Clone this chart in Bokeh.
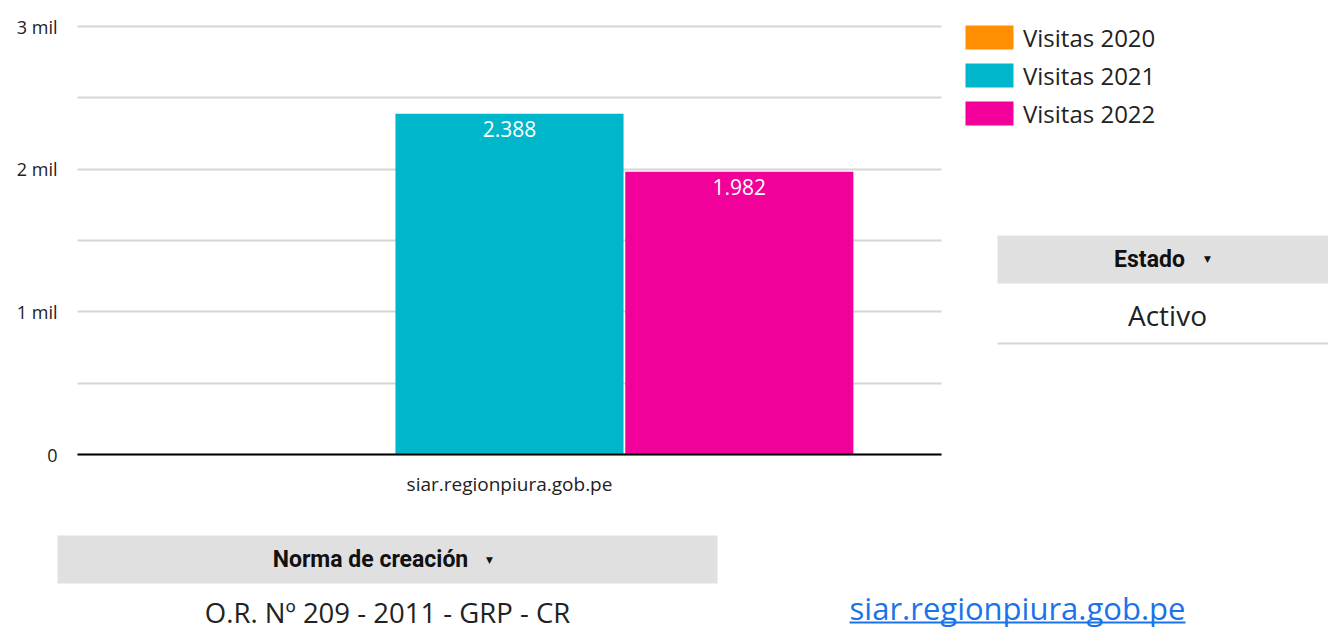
from bokeh.plotting import figure
from bokeh.models import (ColumnDataSource, Range1d, FixedTicker, Legend,
                          LegendItem, BoxAnnotation, Label, LabelSet)
from bokeh.core.properties import value
from bokeh.embed import file_html
from bokeh.resources import INLINE

# ---------------- data ----------------
categories = ["siar.regionpiura.gob.pe"]
series_names = ["Visitas 2020", "Visitas 2021", "Visitas 2022"]
visitas_2020 = [0]
visitas_2021 = [2388]
visitas_2022 = [1982]
series_colors = ["#ff8f00", "#00b6cb", "#f1009a"]
y_tick_values = [0, 1000, 2000, 3000]
y_tick_labels = ["0", "1 mil", "2 mil", "3 mil"]
estado_header = "Estado"
estado_value = "Activo"
norma_header = "Norma de creación"
norma_value = "O.R. Nº 209 - 2011 - GRP - CR"
link_text = "siar.regionpiura.gob.pe"

FONT = "Open Sans"
W, H = 1328, 635
FL, FR, FT, FB = 77, 941, 26, 454   # plotting area of the bar chart (page pixels)
Y_MAX = 3000

# the frame covers the whole page; data ranges are chosen so that the
# category band [0, 1] x [0, 3000] lands on the chart area
xppu = (FR - FL) / 1.0
yppu = (FB - FT) / Y_MAX
x_range = Range1d(-FL / xppu, (W - FL) / xppu)
y_range = Range1d(-(H - FB) / yppu, Y_MAX + FT / yppu)


def sx(x):
    return x


def sy(y):
    return H - y


def fmt(v):
    return f"{v:,}".replace(",", ".")


bw = 0.264
off = 0.266
cat_pos = [i + 0.5 for i in range(len(categories))]

src = ColumnDataSource(dict(
    x2020=[c - off for c in cat_pos],
    x2021=[c for c in cat_pos],
    x2022=[c + off for c in cat_pos],
    v2020=visitas_2020,
    v2021=visitas_2021,
    v2022=visitas_2022,
    l2021=[fmt(v) for v in visitas_2021],
    l2022=[fmt(v) for v in visitas_2022],
))

p = figure(width=W, height=H, x_range=x_range, y_range=y_range,
           output_backend="svg", toolbar_location=None, min_border=0)
p.outline_line_color = None
p.background_fill_color = "white"
p.border_fill_color = "white"

renderers = []
for yr, c in zip(["2020", "2021", "2022"], series_colors):
    r = p.vbar(x="x" + yr, top="v" + yr, bottom=0, width=bw, source=src,
               fill_color=c, line_color=None)
    renderers.append(r)

for yr in ["2021", "2022"]:
    ls = LabelSet(x="x" + yr, y="v" + yr, text="l" + yr, source=src,
                  text_color="white", text_align="center", text_baseline="top",
                  y_offset=-7, text_font=value(FONT), text_font_size=value("21px"))
    p.add_layout(ls)

# axes
p.yaxis.fixed_location = 0
p.yaxis.bounds = (0, Y_MAX)
p.yaxis.ticker = FixedTicker(ticks=y_tick_values)
p.yaxis.major_label_overrides = {v: t for v, t in zip(y_tick_values, y_tick_labels)}
p.yaxis.axis_line_color = None
p.yaxis.major_tick_line_color = None
p.yaxis.minor_tick_line_color = None
p.yaxis.major_label_standoff = 14
p.yaxis.major_label_text_font = FONT
p.yaxis.major_label_text_font_size = "18px"
p.yaxis.major_label_text_color = "#222222"

p.xaxis.fixed_location = 0
p.xaxis.bounds = (0, len(categories))
p.xaxis.ticker = FixedTicker(ticks=cat_pos)
p.xaxis.major_label_overrides = {c: n for c, n in zip(cat_pos, categories)}
p.xaxis.axis_line_color = "black"
p.xaxis.axis_line_width = 2
p.xaxis.major_tick_line_color = None
p.xaxis.minor_tick_line_color = None
p.xaxis.major_label_standoff = 10
p.xaxis.major_label_text_font = FONT
p.xaxis.major_label_text_font_size = "19px"
p.xaxis.major_label_text_color = "#222222"

p.xgrid.grid_line_color = None
p.ygrid.ticker = FixedTicker(ticks=[500 * i for i in range(7)])
p.ygrid.bounds = (0, Y_MAX)
p.ygrid.cross_bounds = (0, len(categories))
p.ygrid.grid_line_color = "#d6d6d6"
p.ygrid.grid_line_width = 2

# legend
legend = Legend(items=[LegendItem(label=n, renderers=[r]) for n, r in zip(series_names, renderers)],
                location=(959, H - 129.5), orientation="vertical",
                glyph_width=60, glyph_height=30, label_height=30, spacing=5,
                label_standoff=4, padding=0, margin=0,
                border_line_color=None, background_fill_alpha=0,
                label_text_font=FONT, label_text_font_size="24px", label_text_color="#222222")
p.add_layout(legend)


def box(l, r, t, b, color):
    p.add_layout(BoxAnnotation(left=sx(l), right=sx(r), top=sy(t), bottom=sy(b),
                               left_units="screen", right_units="screen", top_units="screen",
                               bottom_units="screen", fill_color=color, fill_alpha=1,
                               line_color=None, level="underlay"))


def label(x, y, text, font, size, color, bold=False):
    p.add_layout(Label(x=sx(x), y=sy(y), x_units="screen", y_units="screen", text=text,
                       text_align="center", text_baseline="middle", text_font=font,
                       text_font_size=size, text_font_style="bold" if bold else "normal",
                       text_color=color))


# --- Estado control ---
box(997, 1328, 235, 283, "#e0e0e0")
label(1149, 259, estado_header, "Roboto", "23px", "#111111", bold=True)
label(1207, 258, "▼", "DejaVu Sans", "9px", "#111111")
label(1167, 314, estado_value, FONT, "28px", "#222222")
box(997, 1328, 342, 344, "#d6d6d6")

# --- Norma control ---
box(57, 717, 535, 583, "#e0e0e0")
label(370, 559, norma_header, "Roboto", "23px", "#111111", bold=True)
label(489, 559, "▼", "DejaVu Sans", "9px", "#111111")
label(387, 612, norma_value, FONT, "27.5px", "#222222")

# --- link ---
label(1017, 607, link_text, FONT, "31px", "#1a73e8")
box(849, 1185, 621, 623, "#1a73e8")

open("out.html", "w").write(file_html(p, INLINE))
